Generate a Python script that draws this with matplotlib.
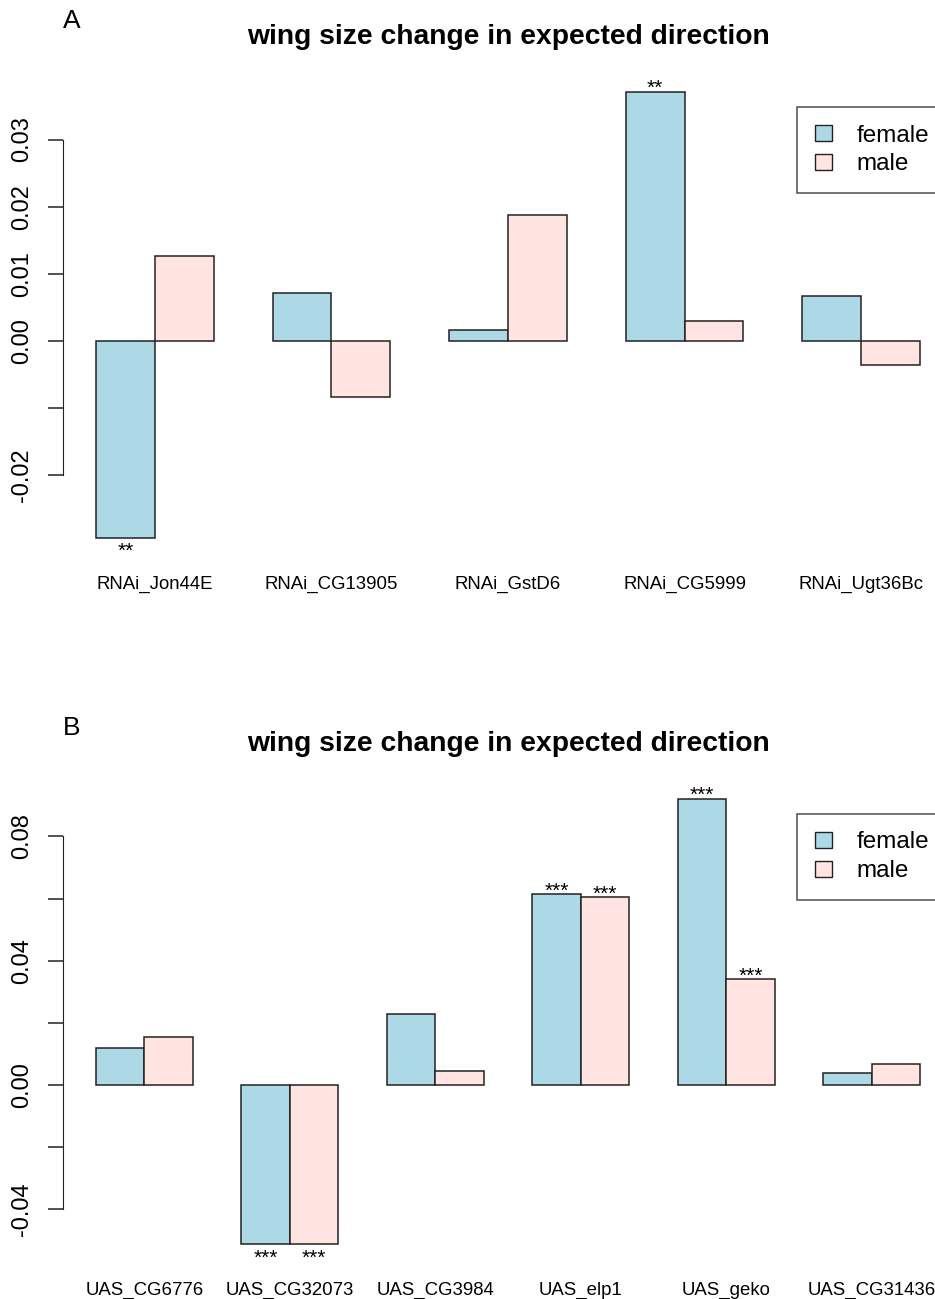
import matplotlib
matplotlib.use("Agg")
import matplotlib.pyplot as plt
from matplotlib.patches import Patch

plt.rcParams["font.family"] = ["Liberation Sans", "DejaVu Sans"]

W, H = 935, 1299

# panel A data
genes_a = ["RNAi_Jon44E", "RNAi_CG13905", "RNAi_GstD6", "RNAi_CG5999", "RNAi_Ugt36Bc"]
female_a = [-0.0294, 0.00715, 0.0016, 0.0371, 0.0067]
male_a = [0.01267, -0.00835, 0.01878, 0.0030, -0.0036]
stars_female_a = ["**", "", "", "**", ""]
stars_male_a = ["", "", "", "", ""]
yticks_a = [-0.02, -0.01, 0.00, 0.01, 0.02, 0.03]
yticklabels_a = ["-0.02", "", "0.00", "0.01", "0.02", "0.03"]

# panel B data
genes_b = ["UAS_CG6776", "UAS_CG32073", "UAS_CG3984", "UAS_elp1", "UAS_geko", "UAS_CG31436"]
female_b = [0.0120, -0.0512, 0.0229, 0.06144, 0.0921, 0.00397]
male_b = [0.01556, -0.0512, 0.0045, 0.06047, 0.03405, 0.00677]
stars_female_b = ["", "***", "", "***", "***", ""]
stars_male_b = ["", "***", "", "***", "***", ""]
yticks_b = [-0.04, -0.02, 0.00, 0.02, 0.04, 0.06, 0.08]
yticklabels_b = ["-0.04", "", "0.00", "", "0.04", "", "0.08"]

col_f = "#ADD8E6"  # lightblue
col_m = "#FFE4E1"  # mistyrose

fig = plt.figure(figsize=(W / 100, H / 100), dpi=100)


def panel(top_px, bottom_px, genes, fem, mal, sf, sm, yt, ytl, letter):
    ax = fig.add_axes([63 / W, 1 - bottom_px / H, 890 / W, (bottom_px - top_px) / H])
    n = len(genes)
    xf = [1.5 + 3 * i for i in range(n)]
    xm = [2.5 + 3 * i for i in range(n)]
    ax.bar(xf, fem, width=1, color=col_f, edgecolor="#222222", linewidth=1.1)
    ax.bar(xm, mal, width=1, color=col_m, edgecolor="#222222", linewidth=1.1)

    # R style limits: 4% padding
    x0, x1 = 1, 3 * n
    dx = 0.04 * (x1 - x0)
    ax.set_xlim(x0 - dx, x1 + dx)
    lo = min(0, min(fem), min(mal))
    hi = max(0, max(fem), max(mal))
    dy = 0.04 * (hi - lo)
    ax.set_ylim(lo - dy, hi + dy)

    for xs, vals, st in [(xf, fem, sf), (xm, mal, sm)]:
        for x, v, s in zip(xs, vals, st):
            if not s:
                continue
            if v >= 0:
                ax.annotate(s, (x, v), xytext=(0, -4.5), textcoords="offset points",
                            ha="center", va="bottom", fontsize=15)
            else:
                ax.annotate(s, (x, v), xytext=(0, -3), textcoords="offset points",
                            ha="center", va="top", fontsize=15)

    for side in ["top", "right", "bottom"]:
        ax.spines[side].set_visible(False)
    ax.spines["left"].set_bounds(yt[0], yt[-1])
    ax.spines["left"].set_color("#222222")
    ax.set_yticks(yt)
    ax.set_yticklabels(ytl, rotation=90, va="center", fontsize=17)
    ax.tick_params(axis="y", length=10.8, width=1.1, pad=10.5, color="#222222")
    ax.set_xticks([2 + 3 * i for i in range(n)])
    ax.set_xticklabels(genes, fontsize=13.4)
    ax.tick_params(axis="x", length=0, pad=14)

    fig.text(508 / W, 1 - (top_px - 37) / H, "wing size change in expected direction",
             ha="center", va="center", fontsize=20.3, fontweight="bold")
    fig.text(72 / W, 1 - (top_px - 53) / H, letter, ha="center", va="center", fontsize=19)

    handles = [Patch(facecolor=col_f, edgecolor="#222222"),
               Patch(facecolor=col_m, edgecolor="#222222")]
    leg = ax.legend(handles, ["female", "male"], loc="upper left",
                    bbox_to_anchor=(797 / W, 1 - (top_px + 33) / H),
                    bbox_transform=fig.transFigure, fontsize=17.5,
                    frameon=True, fancybox=False, borderpad=0.72,
                    handlelength=0.72, handleheight=0.62, handletextpad=1.0,
                    labelspacing=0.28, borderaxespad=0)
    leg.get_frame().set_edgecolor("#222222")
    leg.get_frame().set_linewidth(1.1)
    return ax


panel(74, 556, genes_a, female_a, male_a, stars_female_a, stars_male_a,
      yticks_a, yticklabels_a, "A")
panel(781, 1262, genes_b, female_b, male_b, stars_female_b, stars_male_b,
      yticks_b, yticklabels_b, "B")

fig.savefig("out.png", dpi=100)
